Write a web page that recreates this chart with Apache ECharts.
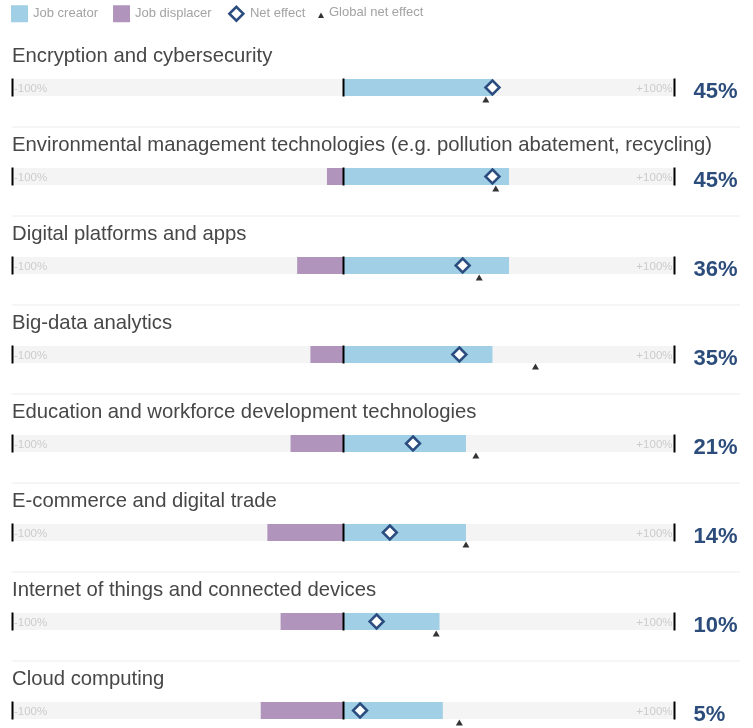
<!DOCTYPE html>
<html><head><meta charset="utf-8">
<script src="https://cdn.jsdelivr.net/npm/echarts@6/dist/echarts.min.js"></script>
<style>html,body{margin:0;padding:0;background:#fff}#c{width:753px;height:728px}</style>
</head><body><div id="c"></div>
<script>
const categories = [
  'Encryption and cybersecurity',
  'Environmental management technologies (e.g. pollution abatement, recycling)',
  'Digital platforms and apps',
  'Big-data analytics',
  'Education and workforce development technologies',
  'E-commerce and digital trade',
  'Internet of things and connected devices',
  'Cloud computing'
];
const jobCreator = [45, 50, 50, 45, 37, 37, 29, 30];
const jobDisplacer = [0, -5, -14, -10, -16, -23, -19, -25];
const netEffect = [45, 45, 36, 35, 21, 14, 10, 5];
const globalNetEffect = [43, 46, 41, 58, 40, 37, 28, 35];
const netLabels = ['45%', '45%', '36%', '35%', '21%', '14%', '10%', '5%'];
const axisTicks = [-100, 0, 100];
const axisEndLabels = ['-100%', '+100%'];

const FONT = "'Liberation Sans', Arial, sans-serif";
const C_CREATOR = '#a0cfe6';
const C_DISPLACER = '#b094bb';
const C_NET = '#2b4c7e';

const chart = echarts.init(document.getElementById('c'), null, {renderer: 'canvas'});

function renderRow(params, api) {
  const i = params.dataIndex;
  const pL = api.coord([axisTicks[0], i]);
  const pR = api.coord([axisTicks[2], i]);
  const y = pL[1];
  const children = [];
  axisTicks.forEach(function (t) {
    const p = api.coord([t, i]);
    children.push({type: 'rect', shape: {x: p[0] - 1, y: y - 9, width: 2, height: 18}, style: {fill: '#000'}});
  });
  children.push({type: 'text', style: {text: categories[i], x: pL[0] - 0.5, y: y - 31, fill: '#474747', font: '20.3px ' + FONT, textAlign: 'left', textVerticalAlign: 'middle'}});
  children.push({type: 'text', style: {text: axisEndLabels[0], x: pL[0] + 1.5, y: y + 1, fill: '#cccccc', font: '11.5px ' + FONT, textAlign: 'left', textVerticalAlign: 'middle'}});
  children.push({type: 'text', style: {text: axisEndLabels[1], x: pR[0] - 2, y: y + 1, fill: '#cccccc', font: '11.5px ' + FONT, textAlign: 'right', textVerticalAlign: 'middle'}});
  children.push({type: 'text', style: {text: netLabels[i], x: pR[0] + 19, y: y + 4.5, fill: '#2c4d7b', font: 'bold 22px ' + FONT, textAlign: 'left', textVerticalAlign: 'middle'}});
  if (i < categories.length - 1) {
    children.push({type: 'line', shape: {x1: pL[0] - 1, y1: y + 39.5, x2: 740, y2: y + 39.5}, style: {stroke: '#ececec', lineWidth: 1}});
  }
  return {type: 'group', children: children};
}

const option = {
  backgroundColor: '#fff',
  animation: false,
  textStyle: {fontFamily: FONT},
  legend: [
    {
      left: 11, top: 4, padding: 0, itemWidth: 17, itemHeight: 17, itemGap: 15,
      textStyle: {color: '#a3a3a3', fontSize: 13, fontFamily: FONT},
      data: [
        {name: 'Job creator', icon: 'rect'},
        {name: 'Job displacer', icon: 'rect'},
        {name: 'Net effect', icon: 'path://M0,0M17,17M1.5,8.5L8.5,1.5L15.5,8.5L8.5,15.5Z', itemStyle: {color: '#fff', borderColor: C_NET, borderWidth: 2.5}}
      ]
    },
    {
      left: 318, top: 4, padding: 0, itemWidth: 6, itemHeight: 17, itemGap: 15,
      textStyle: {color: '#a3a3a3', fontSize: 13, fontFamily: FONT},
      data: [{name: 'Global net effect', icon: 'path://M0,0M6,17M0,14L3,8.5L6,14Z'}]
    }
  ],
  grid: {left: 12.5, width: 662, top: 87.5, height: 623, containLabel: false},
  xAxis: {type: 'value', min: -100, max: 100, show: false},
  yAxis: {type: 'category', data: categories, inverse: true, show: false, boundaryGap: false},
  series: [
    {
      name: 'Job creator', type: 'bar', data: jobCreator, barWidth: 17, barGap: '-100%',
      itemStyle: {color: C_CREATOR}, showBackground: true, backgroundStyle: {color: '#f4f4f4'}, z: 2
    },
    {
      name: 'Job displacer', type: 'bar', data: jobDisplacer, barWidth: 17, barGap: '-100%',
      itemStyle: {color: C_DISPLACER}, z: 2
    },
    {
      name: 'Row frame', type: 'custom', renderItem: renderRow, z: 3, clip: false,
      data: netEffect.map(function (v, i) { return [v, i]; }), encode: {x: 0, y: 1}
    },
    {
      name: 'Global net effect', type: 'scatter', symbol: 'triangle', symbolSize: [7, 6], symbolOffset: [0, 12], z: 4,
      itemStyle: {color: '#000'}, clip: false,
      data: globalNetEffect.map(function (v, i) { return [v, i]; })
    },
    {
      name: 'Net effect', type: 'scatter', symbol: 'diamond', symbolSize: 14, z: 5, clip: false,
      itemStyle: {color: '#fff', borderColor: C_NET, borderWidth: 2.5, opacity: 1},
      data: netEffect.map(function (v, i) { return [v, i]; })
    }
  ]
};
chart.setOption(option);
</script>
</body></html>
